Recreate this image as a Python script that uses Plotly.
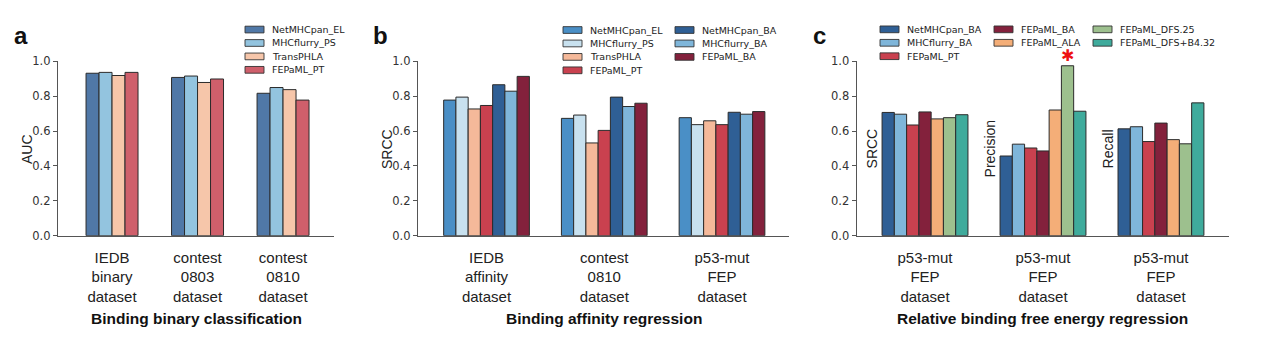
import plotly.graph_objects as go

# ---------------- data ----------------
# Panel a: Binding binary classification (AUC)
a_ticks = ["IEDB<br>binary<br>dataset", "contest<br>0803<br>dataset", "contest<br>0810<br>dataset"]
a_series = ["NetMHCpan_EL", "MHCflurry_PS", "TransPHLA", "FEPaML_PT"]
a_netmhcpan_el = [0.932, 0.908, 0.817]
a_mhcflurry_ps = [0.937, 0.916, 0.850]
a_transphla = [0.919, 0.879, 0.838]
a_fepaml_pt = [0.937, 0.899, 0.778]
a_colors = ["#5078a7", "#93c4df", "#f6c6aa", "#cf5f6b"]

# Panel b: Binding affinity regression (SRCC)
b_ticks = ["IEDB<br>affinity<br>dataset", "contest<br>0810<br>dataset", "p53-mut<br>FEP<br>dataset"]
b_series = ["NetMHCpan_EL", "MHCflurry_PS", "TransPHLA", "FEPaML_PT",
            "NetMHCpan_BA", "MHCflurry_BA", "FEPaML_BA"]
b_netmhcpan_el = [0.778, 0.673, 0.677]
b_mhcflurry_ps = [0.795, 0.692, 0.637]
b_transphla = [0.727, 0.532, 0.659]
b_fepaml_pt = [0.747, 0.604, 0.637]
b_netmhcpan_ba = [0.866, 0.795, 0.708]
b_mhcflurry_ba = [0.829, 0.741, 0.697]
b_fepaml_ba = [0.914, 0.760, 0.712]
b_colors = ["#4a8fc6", "#c8e1ef", "#f5b99a", "#c9414f", "#2f5f95", "#7fb6da", "#83213c"]

# Panel c: Relative binding free energy regression (SRCC / Precision / Recall)
c_metrics = ["SRCC", "Precision", "Recall"]
c_ticks = ["p53-mut<br>FEP<br>dataset", "p53-mut<br>FEP<br>dataset", "p53-mut<br>FEP<br>dataset"]
c_series = ["NetMHCpan_BA", "MHCflurry_BA", "FEPaML_PT", "FEPaML_BA",
            "FEPaML_ALA", "FEPaML_DFS.25", "FEPaML_DFS+B4.32"]
c_netmhcpan_ba = [0.707, 0.457, 0.613]
c_mhcflurry_ba = [0.697, 0.525, 0.625]
c_fepaml_pt = [0.635, 0.503, 0.540]
c_fepaml_ba = [0.710, 0.486, 0.646]
c_fepaml_ala = [0.670, 0.721, 0.551]
c_fepaml_dfs25 = [0.677, 0.975, 0.527]
c_fepaml_dfsb432 = [0.694, 0.714, 0.762]
c_colors = ["#2f5f95", "#7fb6da", "#c9414f", "#83213c", "#f4ae78", "#9dc08e", "#3fab9c"]
c_highlight = ("FEPaML_DFS.25", 1)  # series, group index with red star

x_titles = ["Binding binary classification", "Binding affinity regression",
            "Relative binding free energy regression"]
y_titles = ["AUC", "SRCC"]
panel_letters = ["a", "b", "c"]

# ---------------- layout helpers ----------------
W, H = 1270, 345
EDGE = "#2b2b2b"
AXC = "#555555"
TICKFONT = dict(family="DejaVu Sans", size=11.5, color="#333333")
CATFONT = dict(family="Liberation Sans, Arial", size=15, color="#222222")


def px(x):
    return x / W


def py(y):
    return 1 - y / H


panels = [
    dict(series=a_series,
         values=[a_netmhcpan_el, a_mhcflurry_ps, a_transphla, a_fepaml_pt],
         colors=a_colors, ticks=a_ticks, width=0.152,
         dom=(58, 334), rng=(-0.632, 2.596)),
    dict(series=b_series,
         values=[b_netmhcpan_el, b_mhcflurry_ps, b_transphla, b_fepaml_pt,
                 b_netmhcpan_ba, b_mhcflurry_ba, b_fepaml_ba],
         colors=b_colors, ticks=b_ticks, width=0.104,
         dom=(418, 789), rng=(-0.582, 2.569)),
    dict(series=c_series,
         values=[c_netmhcpan_ba, c_mhcflurry_ba, c_fepaml_pt, c_fepaml_ba,
                 c_fepaml_ala, c_fepaml_dfs25, c_fepaml_dfsb432],
         colors=c_colors, ticks=c_ticks, width=0.104,
         dom=(856.7, 1228.7), rng=(-0.579, 2.574)),
]

Y_TOP, Y_BOT = 56.7, 238.3

fig = go.Figure()
layout = dict(
    width=W, height=H,
    margin=dict(l=0, r=0, t=0, b=0),
    paper_bgcolor="white", plot_bgcolor="white",
    barmode="overlay", showlegend=False,
    shapes=[], annotations=[],
)

for k, p in enumerate(panels):
    ax = "" if k == 0 else str(k + 1)
    n = len(p["series"])
    w = p["width"]
    pos = list(range(len(p["ticks"])))
    for i, (name, vals, col) in enumerate(zip(p["series"], p["values"], p["colors"])):
        fig.add_trace(go.Bar(
            x=pos, y=vals, name=name, width=w, offset=(-n / 2 + i) * w,
            marker=dict(color=col, line=dict(color=EDGE, width=1)),
            xaxis="x" + ax, yaxis="y" + ax,
        ))
    layout["xaxis" + ax] = dict(
        domain=[px(p["dom"][0]), px(p["dom"][1])], range=list(p["rng"]),
        anchor="y" + ax, tickmode="array", tickvals=pos, ticktext=p["ticks"],
        ticks="", ticklabelstandoff=8,
        showline=True, linecolor=AXC, linewidth=1.3,
        showgrid=False, zeroline=False, tickfont=CATFONT, fixedrange=True,
    )
    layout["yaxis" + ax] = dict(
        domain=[py(Y_BOT), py(Y_TOP)], range=[0, 1], anchor="x" + ax,
        tickmode="linear", tick0=0, dtick=0.2, tickformat=".1f",
        ticks="outside", ticklen=4, tickwidth=1.2, tickcolor=AXC,
        showline=True, linecolor=AXC, linewidth=1.3,
        showgrid=False, zeroline=False, tickfont=TICKFONT, fixedrange=True,
    )
    # x title
    layout["annotations"].append(dict(
        text="<b>" + x_titles[k] + "</b>", xref="x" + ax + " domain", yref="paper",
        x=0.5, y=py(325), xanchor="center", yanchor="middle", showarrow=False,
        font=dict(family="Liberation Sans, Arial", size=15.5, color="#111111")))
    # panel letter
    layout["annotations"].append(dict(
        text="<b>" + panel_letters[k] + "</b>", xref="paper", yref="paper",
        x=px([21, 380, 819][k]), y=py(30), xanchor="center", yanchor="middle",
        showarrow=False,
        font=dict(family="Liberation Sans, Arial", size=24, color="#111111")))

# y titles for a and b
for k, (xp, t) in enumerate(zip([27, 387], y_titles)):
    layout["annotations"].append(dict(
        text=t, xref="paper", yref="paper", x=px(xp), y=py(148), textangle=-90,
        xanchor="center", yanchor="middle", showarrow=False,
        font=dict(family="Liberation Sans, Arial", size=14, color="#222222")))

# in-plot metric labels for c
for g, m in enumerate(c_metrics):
    layout["annotations"].append(dict(
        text=m, xref="x3", yref="y3", x=g - 0.45, y=0.5, textangle=-90,
        xanchor="center", yanchor="middle", showarrow=False,
        font=dict(family="Liberation Sans, Arial", size=14, color="#222222")))

# red star over highlighted bar
hs, hg = c_highlight
hi = c_series.index(hs)
nc = len(c_series)
wc = panels[2]["width"]
layout["annotations"].append(dict(
    text="\u2731", xref="x3", yref="y3",
    x=hg + (-nc / 2 + hi + 0.5) * wc, y=panels[2]["values"][hi][hg],
    xanchor="center", yanchor="middle", yshift=10, showarrow=False,
    font=dict(family="DejaVu Sans", size=16, color="#ee1111")))

# legends: column-major grids distributed like matplotlib's ncol layout
legend_specs = [
    dict(panel=0, cols=[245], y0=23.5),
    dict(panel=1, cols=[563, 675], y0=24),
    dict(panel=2, cols=[880, 994, 1093], y0=23.3),
]
ROW_H = 14
for spec in legend_specs:
    p = panels[spec["panel"]]
    ncol = len(spec["cols"])
    nitems = len(p["series"])
    base, extra = divmod(nitems, ncol)
    col_sizes = [base + (1 if c < extra else 0) for c in range(ncol)]
    slots = []
    for c, sz in enumerate(col_sizes):
        for r in range(sz):
            slots.append((c, r))
    for (name, col), (c_i, r_i) in zip(zip(p["series"], p["colors"]), slots):
        sx = spec["cols"][c_i]
        ry = spec["y0"] + r_i * ROW_H
        layout["shapes"].append(dict(
            type="rect", xref="paper", yref="paper",
            x0=px(sx), x1=px(sx + 19), y0=py(ry + 3.5), y1=py(ry - 3.5),
            fillcolor=col, line=dict(color="#333333", width=0.9)))
        layout["annotations"].append(dict(
            text=name, xref="paper", yref="paper", x=px(sx + 25), y=py(ry),
            xanchor="left", yanchor="middle", showarrow=False,
            font=dict(family="DejaVu Sans", size=9.5, color="#222222")))

fig.update_layout(**layout)
fig.write_html("out.html")
